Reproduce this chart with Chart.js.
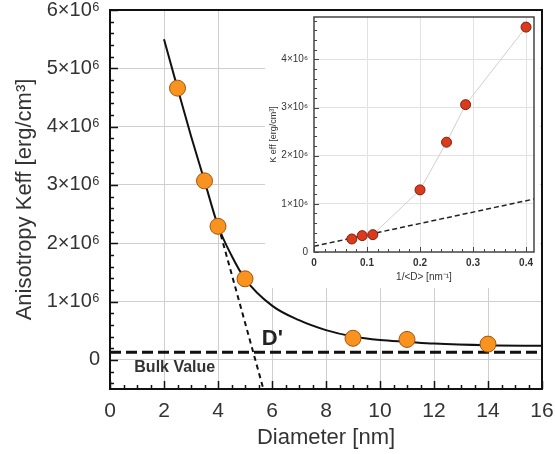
<!DOCTYPE html>
<html>
<head>
<meta charset="utf-8">
<script src="https://cdn.jsdelivr.net/npm/chart.js"></script>
<style>
  body { margin: 0; background: #fff; }
  #wrap { position: relative; width: 555px; height: 454px; }
  #mainChart { position: absolute; left: 0; top: 0; }
  #insetChart { position: absolute; left: 265px; top: 11px; background: #fff; }
</style>
</head>
<body>
<div id="wrap">
  <canvas id="mainChart" width="555" height="454"></canvas>
  <canvas id="insetChart" width="275" height="277"></canvas>
</div>
<script>
// main panel: Keff vs particle diameter
const diameter = [2.5, 3.5, 4, 5, 9, 11, 14];
const keff = [4.66e6, 3.07e6, 2.29e6, 1.39e6, 0.37e6, 0.35e6, 0.27e6];

// fitted curve
const fitD = [2, 2.5, 3, 3.5, 4, 4.5, 5, 6, 7, 8, 9, 10, 11, 12, 14, 16];
const fitK = [5.5e6, 4.66e6, 3.84e6, 3.07e6, 2.3e6, 1.79e6, 1.39e6, 0.93e6, 0.68e6, 0.51e6, 0.4e6, 0.34e6, 0.31e6, 0.28e6, 0.25e6, 0.24e6];

// tangent (D') and bulk value lines
const tangentD = [4.1, 5.68];
const tangentK = [2.15e6, -0.5e6];
const bulkD = [0, 16];
const bulkK = [0.13e6, 0.13e6];

const xTicks = [0, 2, 4, 6, 8, 10, 12, 14, 16];
const yTicks = [0, 1e6, 2e6, 3e6, 4e6, 5e6, 6e6];

// inset: Keff vs 1/<D>
const invD = [0.0714, 0.0909, 0.111, 0.2, 0.25, 0.286, 0.4];
const keffInv = [0.27e6, 0.34e6, 0.36e6, 1.29e6, 2.28e6, 3.06e6, 4.67e6];
const linX = [0, 0.415];
const linK = [0.12e6, 1.1e6];
const insetXTicks = [0, 0.1, 0.2, 0.3, 0.4];
const insetYTicks = [0, 1e6, 2e6, 3e6, 4e6];

const FONT = "'Liberation Sans', Arial, sans-serif";
const TEXT = "#333";
const SUP = ["⁰", "¹", "²", "³", "⁴", "⁵", "⁶", "⁷", "⁸", "⁹"];

const pts = (xs, ys) => xs.map((x, i) => ({ x: x, y: ys[i] }));
const sci = v => (v === 0 ? "0" : (v / 1e6) + "×10" + SUP[6]);

// keep the plot box where it is, labels may overhang
const fixX = h => s => { s.height = h; s.paddingLeft = 0; s.paddingRight = 0; };
const fixY = w => s => { s.width = w; s.paddingTop = 0; s.paddingBottom = 0; };

// frame + inward ticks + text labels
const framePlugin = {
  id: "frame",
  afterDraw(chart, args, o) {
    const { ctx, chartArea: a } = chart;
    const x = chart.scales.x, y = chart.scales.y;
    ctx.save();
    ctx.strokeStyle = o.color;
    ctx.lineWidth = o.tickWidth;
    ctx.beginPath();
    for (let i = Math.ceil(x.min / o.xMinor - 1e-6); i * o.xMinor <= x.max + 1e-9; i++) {
      const v = i * o.xMinor;
      const r = v / o.xMajor;
      const len = Math.abs(r - Math.round(r)) < 1e-6 ? o.major : o.minor;
      const px = Math.round(x.getPixelForValue(v)) + 0.5;
      ctx.moveTo(px, a.bottom);
      ctx.lineTo(px, a.bottom - len);
    }
    for (let i = Math.ceil(y.min / o.yMinor - 1e-6); i * o.yMinor <= y.max + 1e-3; i++) {
      const v = i * o.yMinor;
      const r = v / o.yMajor;
      const len = Math.abs(r - Math.round(r)) < 1e-6 ? o.major : o.minor;
      const py = Math.round(y.getPixelForValue(v)) + 0.5;
      ctx.moveTo(a.left, py);
      ctx.lineTo(a.left + len, py);
    }
    ctx.stroke();
    ctx.lineWidth = o.width;
    ctx.strokeRect(a.left, a.top, a.right - a.left, a.bottom - a.top);
    (o.labels || []).forEach(l => {
      ctx.font = l.font;
      ctx.fillStyle = l.color;
      ctx.textAlign = "left";
      ctx.textBaseline = "middle";
      ctx.fillText(l.text, x.getPixelForValue(l.x), y.getPixelForValue(l.y));
    });
    ctx.restore();
  }
};

new Chart(document.getElementById("mainChart"), {
  type: "scatter",
  data: {
    datasets: [
      {
        data: pts(diameter, keff),
        pointRadius: 8,
        pointHoverRadius: 8,
        backgroundColor: "#f7931e",
        borderColor: "#a4520f",
        borderWidth: 1
      },
      {
        data: pts(fitD, fitK),
        showLine: true,
        borderColor: "#111",
        borderWidth: 2,
        pointRadius: 0,
        cubicInterpolationMode: "monotone"
      },
      {
        data: pts(tangentD, tangentK),
        showLine: true,
        borderColor: "#111",
        borderWidth: 2,
        borderDash: [5, 4],
        pointRadius: 0
      },
      {
        data: pts(bulkD, bulkK),
        showLine: true,
        borderColor: "#111",
        borderWidth: 3,
        borderDash: [11, 5],
        pointRadius: 0
      }
    ]
  },
  options: {
    responsive: false,
    animation: false,
    events: [],
    layout: { padding: { left: 0, top: 10, right: 13, bottom: 0 } },
    plugins: {
      legend: { display: false },
      tooltip: { enabled: false },
      frame: {
        color: "#111", width: 2, tickWidth: 1.5, major: 8, minor: 4,
        xMajor: 2, xMinor: 0.5, yMajor: 1e6, yMinor: 0.2e6,
        labels: [
          { text: "D'", x: 5.62, y: 0.36e6, font: "bold 22px " + FONT, color: "#222" },
          { text: "Bulk Value", x: 0.9, y: -0.13e6, font: "bold 16px " + FONT, color: "#333" }
        ]
      }
    },
    scales: {
      x: {
        type: "linear",
        min: 0,
        max: 16,
        afterBuildTicks: s => { s.ticks = xTicks.map(v => ({ value: v })); },
        afterFit: fixX(65),
        grid: {
          color: c => (c.tick && (c.tick.value === 0 || c.tick.value === 16) ? "rgba(0,0,0,0)" : "#cfcfcf"),
          drawTicks: false
        },
        border: { display: false },
        ticks: { padding: 10, color: TEXT, font: { family: FONT, size: 21 } },
        title: {
          display: true,
          text: "Diameter [nm]",
          color: TEXT,
          font: { family: FONT, size: 22 },
          padding: { top: 0, bottom: 3 }
        }
      },
      y: {
        type: "linear",
        min: -0.5e6,
        max: 6e6,
        afterBuildTicks: s => { s.ticks = yTicks.map(v => ({ value: v })); },
        afterFit: fixY(110),
        grid: {
          color: c => (c.tick && c.tick.value === 6e6 ? "rgba(0,0,0,0)" : "#cfcfcf"),
          drawTicks: false
        },
        border: { display: false },
        ticks: { padding: 10, color: TEXT, font: { family: FONT, size: 20 }, callback: v => sci(v) },
        title: {
          display: true,
          text: "Anisotropy Keff [erg/cm³]",
          color: TEXT,
          font: { family: FONT, size: 22 },
          padding: { top: 12, bottom: 0 }
        }
      }
    }
  },
  plugins: [framePlugin]
});

new Chart(document.getElementById("insetChart"), {
  type: "scatter",
  data: {
    datasets: [
      {
        data: pts(invD, keffInv),
        showLine: true,
        borderColor: "#d0d0d0",
        borderWidth: 1,
        pointRadius: 5,
        pointHoverRadius: 5,
        pointBackgroundColor: "#dc3a1c",
        pointBorderColor: "#7d1f0c",
        pointBorderWidth: 1
      },
      {
        data: pts(linX, linK),
        showLine: true,
        borderColor: "#222",
        borderWidth: 1.5,
        borderDash: [5, 3],
        pointRadius: 0
      }
    ]
  },
  options: {
    responsive: false,
    animation: false,
    events: [],
    layout: { padding: { left: 0, top: 6, right: 4, bottom: 0 } },
    plugins: {
      legend: { display: false },
      tooltip: { enabled: false },
      frame: {
        color: "#444", width: 1.5, tickWidth: 1, major: 5, minor: 3,
        xMajor: 0.1, xMinor: 0.02, yMajor: 1e6, yMinor: 0.2e6
      }
    },
    scales: {
      x: {
        type: "linear",
        min: 0,
        max: 0.415,
        afterBuildTicks: s => { s.ticks = insetXTicks.map(v => ({ value: v })); },
        afterFit: fixX(36),
        grid: {
          color: c => (c.tick && c.tick.value === 0 ? "rgba(0,0,0,0)" : "#e2e2e2"),
          drawTicks: false
        },
        border: { display: false },
        ticks: { padding: 5, color: TEXT, font: { family: FONT, size: 10, weight: "bold" } },
        title: {
          display: true,
          text: "1/<D> [nm⁻¹]",
          color: TEXT,
          font: { family: FONT, size: 10 },
          padding: { top: 0, bottom: 5 }
        }
      },
      y: {
        type: "linear",
        min: 0,
        max: 4.88e6,
        afterBuildTicks: s => { s.ticks = insetYTicks.map(v => ({ value: v })); },
        afterFit: fixY(49),
        grid: {
          color: c => (c.tick && c.tick.value === 0 ? "rgba(0,0,0,0)" : "#e2e2e2"),
          drawTicks: false
        },
        border: { display: false },
        ticks: { padding: 6, color: TEXT, font: { family: FONT, size: 10 }, callback: v => sci(v) },
        title: {
          display: true,
          text: "K eff [erg/cm³]",
          color: TEXT,
          font: { family: FONT, size: 9 },
          padding: { top: 3, bottom: 0 }
        }
      }
    }
  },
  plugins: [framePlugin]
});
</script>
</body>
</html>
